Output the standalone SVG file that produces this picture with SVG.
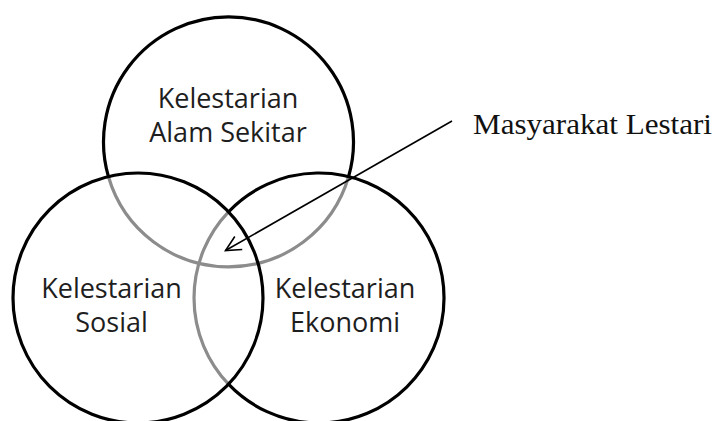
<svg xmlns="http://www.w3.org/2000/svg" width="715" height="421" viewBox="0 0 715 421">
<defs>
<style>
.blk{fill:none;stroke:#000;stroke-width:3.2}
.gry{fill:none;stroke:#8c8c8c;stroke-width:3.2}
.lbl{font-family:"Open Sans","Liberation Sans",sans-serif;font-size:27px;fill:#1e1e1e;text-anchor:middle}
.note{font-family:"Liberation Serif","Times New Roman",serif;font-size:30px;fill:#111}
</style>
<marker id="arr" markerUnits="userSpaceOnUse" markerWidth="20" markerHeight="20" viewBox="-17 -10 20 20" refX="0" refY="0" orient="auto">
<path d="M-15,-7.5 L0,0 L-15,7.5" fill="none" stroke="#000" stroke-width="1.6"/>
</marker>
</defs>
<rect width="715" height="421" fill="#fff"/>
<g id="alam-sekitar">
<path class="gry" d="M108.4,176.5 A125,125 0 0,0 348.6,176.5"/>
<path class="blk" d="M108.4,176.5 A125,125 0 1,1 348.6,176.5"/>
<text class="lbl" x="228" y="108">Kelestarian</text>
<text class="lbl" x="228" y="141.5">Alam Sekitar</text>
</g>
<g id="ekonomi">
<path class="gry" d="M228.5,211.8 A125,125 0 0,0 228.5,384.2"/>
<path class="blk" d="M228.5,211.8 A125,125 0 1,1 228.5,384.2"/>
<text class="lbl" x="345" y="298">Kelestarian</text>
<text class="lbl" x="345" y="331.5">Ekonomi</text>
</g>
<g id="sosial">
<circle class="blk" cx="138" cy="298" r="125"/>
<text class="lbl" x="111.5" y="298">Kelestarian</text>
<text class="lbl" x="111.5" y="331.5">Sosial</text>
</g>
<g id="connectors">
<line x1="452" y1="121" x2="225.5" y2="250.5" stroke="#000" stroke-width="1.6" marker-end="url(#arr)"/>
</g>
<g id="masyarakat-lestari">
<text class="note" x="473" y="133.5" textLength="239" lengthAdjust="spacingAndGlyphs">Masyarakat Lestari</text>
</g>
</svg>
